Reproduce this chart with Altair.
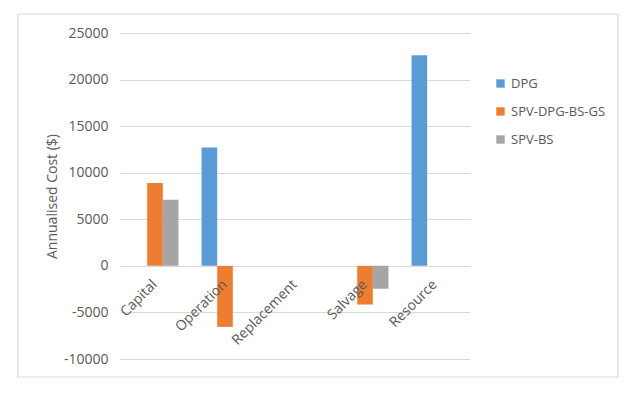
import altair as alt
import pandas as pd

categories = ["Capital", "Operation", "Replacement", "Salvage", "Resource"]
series = ["DPG", "SPV-DPG-BS-GS", "SPV-BS"]
dpg = [0, 12700, 0, 0, 22600]
spv_dpg_bs_gs = [8900, -6550, 0, -4150, 0]
spv_bs = [7100, 0, 0, -2450, 0]
colors = ["#5B9BD5", "#ED7D31", "#A5A5A5"]
y_ticks = [-10000, -5000, 0, 5000, 10000, 15000, 20000, 25000]

rows = []
for s, vals in zip(series, [dpg, spv_dpg_bs_gs, spv_bs]):
    for c, v in zip(categories, vals):
        rows.append({"Category": c, "Series": s, "Value": v})
df = pd.DataFrame(rows)

FONT = "Open Sans"
TXT = "#595959"

bars = alt.Chart(df).mark_bar().encode(
    x=alt.X("Category:N", sort=categories,
            scale=alt.Scale(paddingInner=0.33, paddingOuter=0.165),
            axis=alt.Axis(title=None, labelAngle=315, labelAlign="right",
                          labelBaseline="middle", ticks=False, domain=False,
                          labelPadding=16, offset=-93, labelFont=FONT,
                          labelFontSize=14, labelColor=TXT, grid=False, zindex=2)),
    xOffset=alt.XOffset("Series:N", sort=series, scale=alt.Scale(paddingInner=0, paddingOuter=0)),
    y=alt.Y("Value:Q", scale=alt.Scale(domain=[-10000, 25000], nice=False),
            axis=alt.Axis(title="Annualised Cost ($)", values=y_ticks,
                          labelExpr="datum.value + ''",
                          ticks=False, domain=False, gridColor="#D9D9D9",
                          labelPadding=12, labelFont=FONT, labelFontSize=14,
                          labelColor=TXT, titleFont=FONT, titleFontSize=14,
                          titleColor=TXT, titleFontWeight="normal", titlePadding=4)),
    color=alt.Color("Series:N", sort=series,
                    scale=alt.Scale(domain=series, range=colors),
                    legend=alt.Legend(title=None, orient="none", legendX=374, legendY=44,
                                      symbolType="square", symbolSize=70,
                                      symbolStrokeWidth=0, labelFont=FONT,
                                      labelFontSize=13, labelColor=TXT,
                                      rowPadding=14, labelOffset=4)),
)

border = alt.Chart(pd.DataFrame({"a": [0]})).mark_rect(
    fill=None, stroke="#D9D9D9", strokeWidth=1.2
).encode(x=alt.value(-102), x2=alt.value(498), y=alt.value(-19), y2=alt.value(344))

chart = alt.layer(border, bars).properties(
    width=350, height=326,
    background="white",
    autosize=alt.AutoSizeParams(type="none"),
    padding={"left": 112, "top": 25, "right": 166, "bottom": 20},
).configure_view(stroke="transparent")

chart.save("out.html", embed_options={"renderer": "svg", "actions": False})
